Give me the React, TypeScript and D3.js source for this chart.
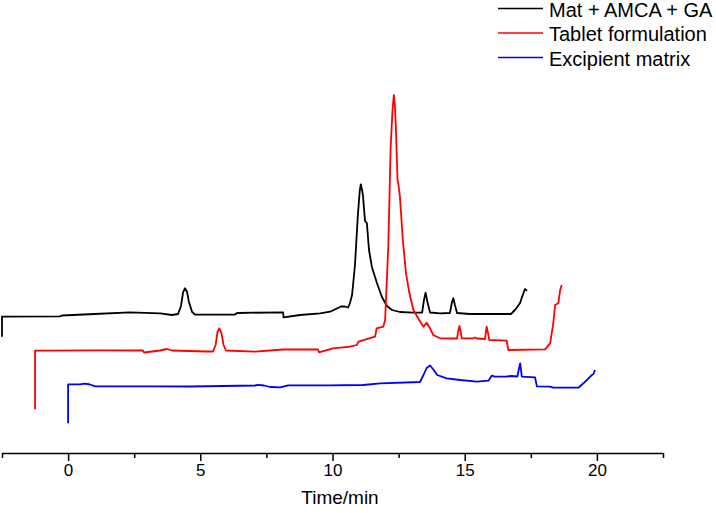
import React, { useRef, useLayoutEffect } from 'react'
import { select, scaleLinear, axisBottom, line } from 'd3'

// retention time (min) vs detector signal
const matAmcaGa: [number, number][] = [
  [0, -20.7], [0, -0.7], [2.19, -0.3], [2.27, 0.5], [3.5, 2], [4.84, 3.7], [5.98, 2.7],
  [6.43, 1], [6.66, 2], [6.77, 10], [6.85, 24], [6.92, 27.7], [7.0, 24], [7.07, 14],
  [7.19, 4], [7.3, 1.3], [8.81, 1.5], [8.89, 3], [10.63, 3.7], [10.65, -1.3], [11.27, 1],
  [12.03, 2.7], [12.41, 4.3], [12.82, 9.5], [12.97, 9.5], [13.09, 8.5], [13.16, 13],
  [13.24, 21], [13.35, 51], [13.46, 101], [13.53, 125], [13.57, 131.7], [13.61, 127],
  [13.65, 121], [13.73, 95], [13.8, 93], [13.88, 66], [13.99, 49], [14.18, 33],
  [14.37, 19], [14.56, 10], [14.75, 6], [15.05, 4], [15.54, 3.3], [15.89, 3.5],
  [15.96, 16], [16.02, 23.3], [16.09, 14], [16.19, 3.5], [16.57, 2.7], [16.94, 3],
  [17.02, 14], [17.07, 17.7], [17.13, 11], [17.21, 3], [17.7, 2], [19.25, 2], [19.4, 6],
  [19.59, 12.7], [19.67, 19], [19.78, 27], [19.86, 25.3],
]

const tabletFormulation: [number, number][] = [
  [0, -58.3], [0, 0.3], [2.46, 0.7], [4.08, 0.5], [4.12, -1.5], [4.73, 0.5], [4.98, 2],
  [5.18, 0.5], [6.49, -0.5], [6.73, -0.5], [6.83, 6], [6.9, 19], [6.97, 22.7], [7.05, 18],
  [7.13, 6], [7.22, 0.5], [8.32, -0.7], [9.38, 1.5], [10.7, 1.5], [10.74, -1.3],
  [11.27, 2.7], [11.91, 4.3], [12.17, 6], [12.23, 9.3], [12.86, 14.3], [12.92, 22.7],
  [13.17, 24.3], [13.24, 31], [13.36, 104.3], [13.45, 204.3], [13.52, 241], [13.57, 256],
  [13.61, 246], [13.65, 221], [13.71, 171], [13.74, 167.5], [13.8, 154.3], [13.91, 111],
  [14.03, 77.7], [14.16, 57.7], [14.31, 41], [14.53, 31], [14.69, 24.3], [14.81, 28.3],
  [14.94, 22.7], [15.06, 16], [15.32, 12.7], [15.96, 12.5], [16.0, 19], [16.05, 25],
  [16.1, 19], [16.14, 12.7], [16.58, 12.7], [16.64, 13.5], [16.72, 12.5], [17.02, 12],
  [17.05, 19], [17.08, 24.3], [17.13, 18], [17.18, 11], [17.84, 10.3], [17.9, 1],
  [19.29, 1.7], [19.48, 7.7], [19.6, 27.7], [19.67, 46], [19.79, 47.7], [19.86, 61],
  [19.92, 66],
]

const excipientMatrix: [number, number][] = [
  [0, -37.3], [0, 1.7], [0.45, 1.7], [0.64, 2.3], [0.83, 1.5], [1.02, -0.3], [3.1, -0.3],
  [4.61, -0.5], [7.07, 0.5], [7.19, 1.2], [7.41, 0.5], [7.64, -1], [8.02, -1.3],
  [8.32, 0.7], [9.91, 0.7], [11.16, 1], [11.8, 2.7], [13.31, 4], [13.44, 11], [13.56, 18],
  [13.69, 20.5], [13.8, 17], [13.96, 11], [14.32, 7.7], [14.83, 6], [15.46, 4.3],
  [15.9, 5.3], [16.02, 10.3], [16.15, 9.3], [16.59, 9.5], [16.74, 10], [16.99, 9.5],
  [17.05, 17], [17.1, 22.7], [17.13, 16], [17.16, 9.3], [17.66, 8.7], [17.73, -0.3],
  [18.23, -0.7], [18.35, -1.7], [19.3, -1.7], [19.49, 2.7], [19.68, 7.7], [19.81, 11],
  [19.87, 12], [19.93, 16],
]

const seriesNames = ['Mat + AMCA + GA', 'Tablet formulation', 'Excipient matrix']
// stacked (offset) plot: each trace is shifted in time and signal
const timeOffsets = [-2.5, -1.25, 0]
const signalOffsets = [137, 102, 67]
const majorTicks = [0, 5, 10, 15, 20]
const minorTicks = [-2.5, 2.5, 7.5, 12.5, 17.5, 22.5]

const WIDTH = 716
const HEIGHT = 513
const AXIS_Y = 453
const COLORS = ['#000000', '#ff0000', '#0000ff']
const FONT = '"Liberation Sans", Arial, sans-serif'

function App() {
  const svgRef = useRef()

  useLayoutEffect(() => {
    const svg = select(svgRef.current)
    svg.selectAll('*').remove()

    const x = scaleLinear().domain([-2.5, 22.5]).range([2, 663])
    const y = scaleLinear().domain([0, 450]).range([453, 3])

    const series = [matAmcaGa, tabletFormulation, excipientMatrix]
    series.forEach((data, i) => {
      const path = line<[number, number]>()
        .x(d => x(d[0] + timeOffsets[i]))
        .y(d => y(d[1] + signalOffsets[i]))
      svg
        .append('path')
        .attr('d', path(data))
        .attr('fill', 'none')
        .attr('stroke', COLORS[i])
        .attr('stroke-width', 1.8)
        .attr('stroke-linejoin', 'round')
    })

    // minor ticks, then major ticks with labels
    svg
      .append('g')
      .attr('transform', `translate(0,${AXIS_Y})`)
      .call(axisBottom(x).tickValues(minorTicks).tickSize(5).tickSizeOuter(0).tickFormat(() => ''))
      .call(g => g.selectAll('path,line').attr('stroke', '#000').attr('stroke-width', 1.5))

    svg
      .append('g')
      .attr('transform', `translate(0,${AXIS_Y})`)
      .call(axisBottom(x).tickValues(majorTicks).tickSize(8).tickSizeOuter(0).tickPadding(3))
      .call(g => g.select('.domain').remove())
      .call(g => g.selectAll('line').attr('stroke', '#000').attr('stroke-width', 1.5))
      .call(g =>
        g.selectAll('text').attr('font-family', FONT).attr('font-size', 17).attr('fill', '#000')
      )

    svg
      .append('text')
      .attr('x', 340)
      .attr('y', 497)
      .attr('text-anchor', 'middle')
      .attr('dominant-baseline', 'central')
      .attr('font-family', FONT)
      .attr('font-size', 19)
      .text('Time/min')

    const legend = svg
      .append('g')
      .selectAll('g')
      .data(seriesNames)
      .join('g')
      .attr('transform', (d, i) => `translate(498,${8.5 + i * 24.5})`)
    legend
      .append('line')
      .attr('x1', 0)
      .attr('x2', 45)
      .attr('stroke', (d, i) => COLORS[i])
      .attr('stroke-width', 1.6)
    legend
      .append('text')
      .attr('x', 51)
      .attr('y', 1)
      .attr('dominant-baseline', 'central')
      .attr('font-family', FONT)
      .attr('font-size', 20)
      .text(d => d)
  }, [])

  return (
    <svg
      ref={svgRef}
      width={WIDTH}
      height={HEIGHT}
      style={{ position: 'absolute', left: 0, top: 0, background: '#fff' }}
    />
  )
}

export default App
